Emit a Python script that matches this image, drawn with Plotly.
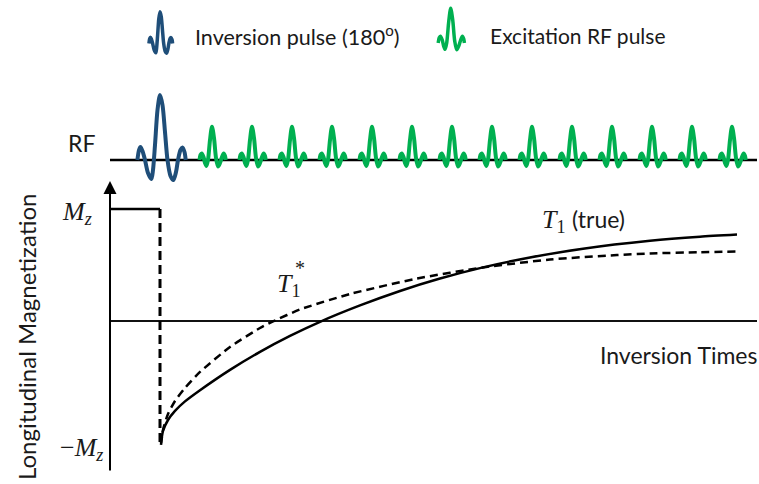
import plotly.graph_objects as go

# ---------------- data ----------------
# time in ms after the inversion pulse, Mz normalised to equilibrium M0 = 1
t1_time = [2.5, 7.5, 20, 37.5, 62.5, 100, 175, 250, 325, 400, 500, 600, 700, 807.5, 925, 1057.5,
           1225, 1350, 1442.5]
t1_mz = [-1.089, -0.982, -0.884, -0.803, -0.718, -0.618, -0.436, -0.275, -0.133, -0.007, 0.139,
         0.268, 0.379, 0.479, 0.567, 0.646, 0.717, 0.753, 0.772]

t1star_time = [2.5, 7.5, 20, 37.5, 62.5, 100, 175, 250, 282.5, 350, 475, 642.5, 807.5, 975, 1142.5,
               1225, 1350, 1442.5]
t1star_mz = [-1.107, -0.973, -0.830, -0.714, -0.598, -0.455, -0.232, -0.0625, -0.004, 0.103, 0.241,
             0.379, 0.478, 0.549, 0.589, 0.603, 0.614, 0.620]

mz_before_time = [-125, 0]
mz_before = [1.0, 1.0]
inversion_time = 0
inverted_mz = -1.125

excitation_times = [130, 230, 330, 430, 530, 630, 730, 830, 930, 1030, 1130, 1230, 1330, 1430]
inversion_amp = 1.0
excitation_amp = 0.51

# pulse waveform shapes (ms offset from pulse centre, normalised amplitude)
inv_shape_t = [-56.5, -52.5, -48.75, -43.75, -37.5, -30, -21.5, -17.5, -12.5, -6.25, 0, 6.25, 12.5,
               18.75, 26.25, 33.5, 40, 45, 51.25, 56, 61.25, 64.25]
inv_shape_a = [0, 0.154, 0.2, 0.138, 0, -0.2, -0.292, -0.154, 0.231, 0.769, 1, 0.846, 0.431, 0,
               -0.246, -0.308, -0.185, 0, 0.154, 0.192, 0.123, 0]
exc_shape_t = [-31.25, -28.75, -25.75, -21.25, -17.5, -14, -10, -5, 0, 5, 10, 15, 20, 25, 29.25, 32.5, 34.25]
exc_shape_a = [0, 0.152, 0.197, 0.091, -0.091, -0.182, 0, 0.606, 1, 0.667, 0.061, -0.197, -0.091,
               0.091, 0.197, 0.121, 0]

# ---------------- styling ----------------
BLUE = "#1F4E79"
GREEN = "#00B050"
TXT = "#1a1a1a"
W, H = 759, 484
X0, X1 = -400, 1497.5
AXIS_T = -125
END_T = 1492.5

fig = go.Figure()


def pulse_trace(centres, amp, st, sa, color, width, yaxis="y2", xscale=1.0, base=0.0):
    xs, ys = [], []
    for c in centres:
        xs += [c + xscale * u for u in st] + [None]
        ys += [base + amp * a for a in sa] + [None]
    return go.Scatter(x=xs, y=ys, mode="lines", yaxis=yaxis,
                      line=dict(color=color, width=width, shape="spline", smoothing=0.8),
                      hoverinfo="skip", connectgaps=False)


# RF baseline
fig.add_trace(go.Scatter(x=[AXIS_T, END_T], y=[0, 0], yaxis="y2", mode="lines",
                         line=dict(color="black", width=2.5), hoverinfo="skip"))
# pulses on RF line
fig.add_trace(pulse_trace([inversion_time], inversion_amp, inv_shape_t, inv_shape_a, BLUE, 4))
fig.add_trace(pulse_trace(excitation_times, excitation_amp, exc_shape_t, exc_shape_a, GREEN, 4))
# legend glyphs
fig.add_trace(pulse_trace([0], 0.49, inv_shape_t, inv_shape_a, BLUE, 3.5, xscale=0.49, base=1.792))
fig.add_trace(pulse_trace([726.75], excitation_amp * 1.05, exc_shape_t, exc_shape_a, GREEN, 3.5,
                          xscale=1.0, base=1.8))

# magnetization plot
fig.add_trace(go.Scatter(x=[AXIS_T, END_T], y=[0, 0], mode="lines",
                         line=dict(color="#111111", width=2), hoverinfo="skip"))
fig.add_trace(go.Scatter(x=mz_before_time, y=mz_before, mode="lines",
                         line=dict(color="black", width=2.5), hoverinfo="skip"))
fig.add_trace(go.Scatter(x=[inversion_time, inversion_time], y=[mz_before[-1], inverted_mz], mode="lines",
                         line=dict(color="black", width=3, dash="9px,5px"), hoverinfo="skip"))
fig.add_trace(go.Scatter(x=t1_time, y=t1_mz, mode="lines",
                         line=dict(color="black", width=2.5, shape="spline", smoothing=0.6),
                         hoverinfo="skip"))
fig.add_trace(go.Scatter(x=t1star_time, y=t1star_mz, mode="lines",
                         line=dict(color="black", width=2.5, shape="spline", smoothing=0.6,
                                   dash="8px,5px"),
                         hoverinfo="skip"))

# y axis arrow
fig.add_annotation(x=AXIS_T, y=1.25, ax=AXIS_T, ay=-1.348, xref="x", yref="y", axref="x", ayref="y",
                   text="", showarrow=True, arrowhead=2, arrowsize=1.3, arrowwidth=2, arrowcolor="black")


def px(x):
    return x / W


def py(y):
    return 1 - y / H


SANS = "Lato"
SERIF = "Liberation Serif"


def label(text, x, y, xanchor, size, family=SANS, angle=0):
    fig.add_annotation(text=text, x=px(x), y=py(y), xref="paper", yref="paper", showarrow=False,
                       xanchor=xanchor, yanchor="middle", textangle=angle,
                       font=dict(family=family, size=size, color=TXT))


label("Inversion pulse (180<sup>o</sup>)", 193, 36, "left", 21.5)
label("Excitation RF pulse", 488, 36, "left", 21)
label("RF", 97, 143, "right", 23)
label("<i>M</i><sub><i>z</i></sub>", 94, 213, "right", 26, SERIF)
label("\u2212<i>M</i><sub><i>z</i></sub>", 105, 449, "right", 26, SERIF)
label("<i>T</i><sub>1</sub>", 275, 285, "left", 26, SERIF)
label("*", 293, 268, "left", 20, SERIF)
label("<i>T</i><sub>1</sub> <span style='font-family:Lato;font-size:23px'>(true)</span>", 540, 221,
      "left", 26, SERIF)
label("Inversion Times", 759, 355, "right", 23)
label("Longitudinal Magnetization", 26, 337, "center", 24, angle=-90)

fig.update_layout(
    width=W, height=H, margin=dict(l=0, r=0, t=0, b=0),
    paper_bgcolor="white", plot_bgcolor="white", showlegend=False,
    xaxis=dict(range=[X0, X1], visible=False, fixedrange=True),
    yaxis=dict(range=[-1.4554, 2.8661], visible=False, fixedrange=True),
    yaxis2=dict(range=[-4.9846, 2.4615], overlaying="y", visible=False, fixedrange=True),
)

fig.write_html("out.html")
